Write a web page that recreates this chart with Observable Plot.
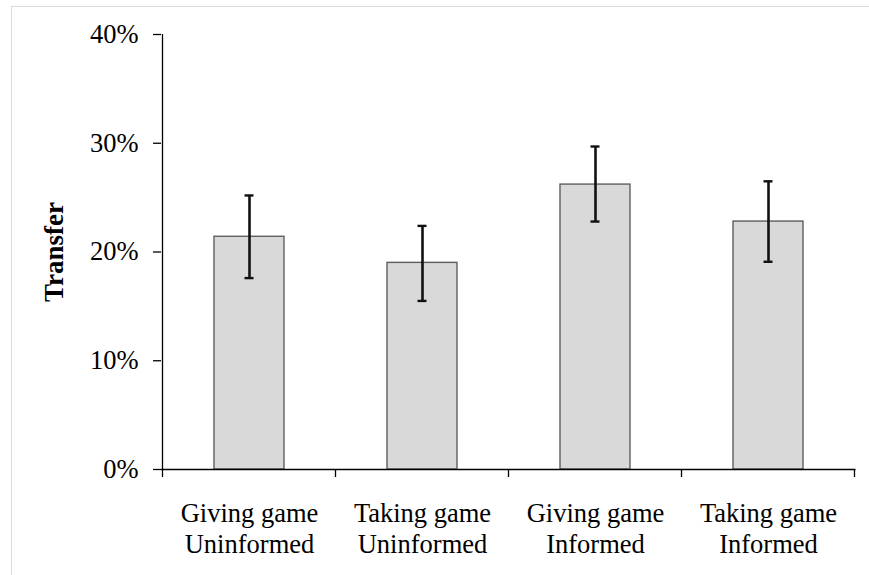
<!DOCTYPE html>
<html>
<head>
<meta charset="utf-8">
<script src="https://cdn.jsdelivr.net/npm/d3@7"></script>
<script src="https://cdn.jsdelivr.net/npm/@observablehq/plot@0.6"></script>
<style>
  html, body { margin: 0; padding: 0; background: #fff; }
  #wrap { position: relative; width: 869px; height: 575px; overflow: hidden; }
  #border { position: absolute; left: 11px; top: 6px; right: -2px; bottom: -2px;
            border-left: 1.5px solid #dcdcdc; border-top: 1.5px solid #dcdcdc; pointer-events: none; }
  svg { display: block; }
  #wrap svg, #wrap svg text { font-family: "Liberation Serif", "Times New Roman", serif !important; }
</style>
</head>
<body>
<div id="wrap"><div id="border"></div></div>
<script>
const game = ["Giving game", "Taking game", "Giving game", "Taking game"];
const info = ["Uninformed", "Uninformed", "Informed", "Informed"];
const mean = [0.214, 0.190, 0.262, 0.228];
const lo   = [0.176, 0.155, 0.228, 0.191];
const hi   = [0.252, 0.224, 0.297, 0.265];
const yTicks = [0, 0.1, 0.2, 0.3, 0.4];
const yLabel = "Transfer";

const cats = game.map((g, i) => g + "\n" + info[i]);
const data = cats.map((c, i) => ({cat: c, mean: mean[i], lo: lo[i], hi: hi[i]}));

const font = "Liberation Serif";

const chart = Plot.plot({
  width: 869,
  height: 575,
  marginLeft: 161,
  marginRight: 13.5,
  marginTop: 34,
  marginBottom: 106,
  style: {fontFamily: font, color: "#000", background: "transparent"},
  x: {domain: cats, paddingInner: 0.593, paddingOuter: 0.2965, label: null, axis: null},
  y: {domain: [0, 0.4], label: null, axis: null},
  marks: [
    Plot.barY(data, {x: "cat", y: "mean", fill: "#d9d9d9", stroke: "#5e5e5e", strokeWidth: 1.4}),
    Plot.ruleX(data, {x: "cat", y1: "lo", y2: "hi", stroke: "#111", strokeWidth: 2.6}),
    Plot.tickY(data, {x: "cat", y: "lo", stroke: "#111", strokeWidth: 2.4, insetLeft: 30.5, insetRight: 30.5}),
    Plot.tickY(data, {x: "cat", y: "hi", stroke: "#111", strokeWidth: 2.4, insetLeft: 30.5, insetRight: 30.5}),
    Plot.ruleY([0], {stroke: "#000", strokeWidth: 1.3}),
    Plot.axisY({ticks: yTicks, tickFormat: d3.format(".0%"), tickSize: 8, tickPadding: 15,
                fontSize: 26.5, fontFamily: font, stroke: "#000", strokeWidth: 1.3, label: null}),
    Plot.axisX({tickSize: 0, tickPadding: 31, fontSize: 26.5, fontFamily: font, lineHeight: 1.16, label: null,
                lineAnchor: "top", tickFormat: d => d}),
    Plot.text([yLabel], {frameAnchor: "left", textAnchor: "middle", rotate: -90, dx: -107, fontSize: 27,
                         fontWeight: "bold", fill: "#000", fontFamily: font})
  ]
});

document.getElementById("wrap").prepend(chart);

// y-axis line and x-axis category boundary ticks, from the library's scales
const sx = chart.scale("x");
const sy = chart.scale("y");
const svg = d3.select(chart);
const y0 = sy.apply(0);
const yTop = sy.apply(0.4);
const gap = (sx.step - sx.bandwidth) / 2;
const bounds = cats.map(c => sx.apply(c) - gap);
bounds.push(sx.apply(cats[cats.length - 1]) + sx.bandwidth + gap);
const g = svg.append("g").attr("stroke", "#000").attr("stroke-width", 1.3);
g.append("line").attr("x1", bounds[0]).attr("x2", bounds[0]).attr("y1", yTop).attr("y2", y0);
bounds.forEach(b => {
  g.append("line").attr("x1", b).attr("x2", b).attr("y1", y0).attr("y2", y0 + 8);
});
</script>
</body>
</html>
